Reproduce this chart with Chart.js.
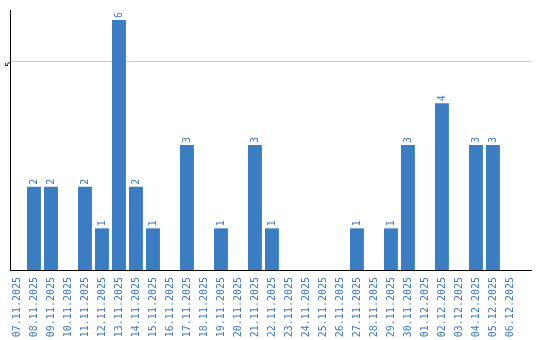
<!DOCTYPE html>
<html>
<head>
<meta charset="utf-8">
<script src="https://cdn.jsdelivr.net/npm/chart.js@4/dist/chart.umd.min.js"></script>
<style>
  html, body { margin: 0; padding: 0; background: #fff; }
  #wrap { width: 540px; height: 340px; }
</style>
</head>
<body>
<div id="wrap"><canvas id="dayBar"></canvas></div>
<script>
// days shown on the x axis
const days = [
  '07.11.2025', '08.11.2025', '09.11.2025', '10.11.2025', '11.11.2025',
  '12.11.2025', '13.11.2025', '14.11.2025', '15.11.2025', '16.11.2025',
  '17.11.2025', '18.11.2025', '19.11.2025', '20.11.2025', '21.11.2025',
  '22.11.2025', '23.11.2025', '24.11.2025', '25.11.2025', '26.11.2025',
  '27.11.2025', '28.11.2025', '29.11.2025', '30.11.2025', '01.12.2025',
  '02.12.2025', '03.12.2025', '04.12.2025', '05.12.2025', '06.12.2025'
];
// count per day
const counts = [0, 2, 2, 0, 2, 1, 6, 2, 1, 0, 3, 0, 1, 0, 3, 1, 0, 0, 0, 0, 1, 0, 1, 3, 0, 4, 0, 3, 3, 0];
// only labelled y tick
const yTicks = [5];

const barBlue = '#3b7dc3';
const textBlue = '#3a78c0';
const monoFont = 'DejaVu Sans Mono';

/*
 Writes the count above each bar, turned like the axis labels
*/
const valueLabels = {
  id: 'valueLabels',
  afterDatasetsDraw(chart) {
    const c = chart.ctx;
    const meta = chart.getDatasetMeta(0);
    c.save();
    c.fillStyle = textBlue;
    c.font = '10px ' + monoFont;
    c.textAlign = 'left';
    c.textBaseline = 'middle';
    meta.data.forEach((bar, i) => {
      if (!counts[i]) return;
      c.save();
      c.translate(bar.x, bar.y - 2);
      c.rotate(-Math.PI / 2);
      c.fillText(String(counts[i]), 0, 0);
      c.restore();
    });
    c.restore();
  }
};

const ctx = document.getElementById('dayBar');
new Chart(ctx, {
  type: 'bar',
  data: {
    labels: days,
    datasets: [{
      data: counts,
      backgroundColor: barBlue,
      borderWidth: 0,
      categoryPercentage: 1,
      barPercentage: 0.82
    }]
  },
  options: {
    responsive: true,
    maintainAspectRatio: false,
    animation: false,
    layout: { padding: { top: 10, right: 9, bottom: 0, left: 0 } },
    plugins: {
      legend: { display: false },
      tooltip: { enabled: false }
    },
    scales: {
      y: {
        min: 0,
        max: 6.24,
        afterFit(scale) { scale.width = 10; },
        afterBuildTicks(scale) {
          scale.ticks = yTicks.map(v => ({ value: v }));
        },
        ticks: {
          font: { family: monoFont, size: 9 },
          color: '#000',
          padding: 0,
          minRotation: 90,
          maxRotation: 90
        },
        grid: {
          color: '#cccccc',
          drawTicks: false
        },
        border: { color: '#000', width: 1 }
      },
      x: {
        afterFit(scale) { scale.height = 70; },
        // the axis runs on a bit past the last day, so the range is widened on the right
        afterBuildTicks(scale) {
          scale._startValue = -0.41;
          scale._valueRange = 30.65;
        },
        ticks: {
          font: { family: monoFont, size: 10 },
          color: textBlue,
          minRotation: 90,
          maxRotation: 90,
          autoSkip: false,
          padding: 7
        },
        grid: { display: false, drawTicks: false },
        border: { color: '#000', width: 1 }
      }
    }
  },
  plugins: [valueLabels]
});
</script>
</body>
</html>
